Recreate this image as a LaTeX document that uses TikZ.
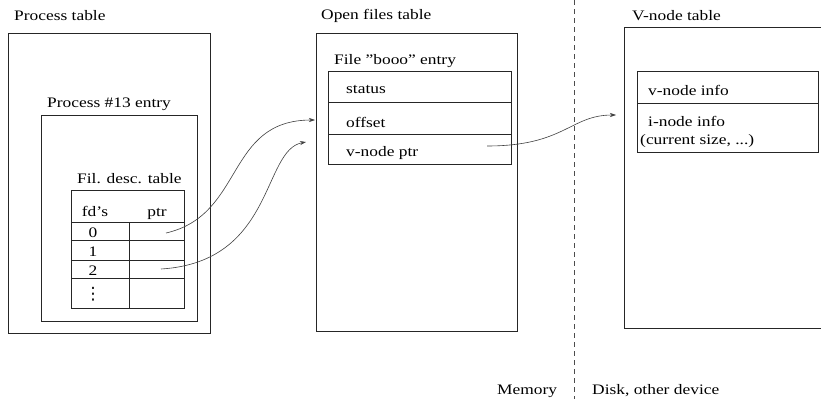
\documentclass[tikz,border=0pt]{standalone}
\usepackage{fontspec}
\setmainfont{Liberation Serif}[FakeStretch=1.2]
\newfontfamily\symfont{DejaVu Sans}
\usetikzlibrary{arrows.meta}
\tikzset{
  lbl/.style={anchor=west,inner sep=0pt,font=\fontsize{14.5}{16}\selectfont},
  box/.style={draw=black!85,line width=0.8pt},
  link/.style={draw=black!75,line width=0.6pt,-{Stealth[length=6pt,width=4pt]}},
  divider/.style={draw=black!70,line width=0.8pt,dash pattern=on 5pt off 4pt}
}
\begin{document}
\begin{tikzpicture}[x=1pt,y=-1pt]
\useasboundingbox (0,0) rectangle (821,399);
\fill[white] (0,0) rectangle (821,399);
% Process table
\node[lbl] (ptl) at (14,16) {Process table};
\draw[box] (8,33) rectangle (210,333);
\node[lbl] (p13l) at (47,104) {Process \#13 entry};
\draw[box] (41,115) rectangle (197,321);
\node[lbl] (fdtl) at (77,179) {Fil. desc. table};
\draw[box] (71,190) rectangle (184,308);
\draw[box] (71,222) -- (184,222) (71,240) -- (184,240) (71,260) -- (184,260) (71,278) -- (184,278);
\draw[box] (129,222) -- (129,308);
\node[lbl,anchor=base] (fdh) at (95,216) {fd's};
\node[lbl,anchor=base] (ptrh) at (157,216) {ptr};
\node[lbl,anchor=base] (r0) at (93,237) {0};
\node[lbl,anchor=base] (r1) at (93,256) {1};
\node[lbl,anchor=base] (r2) at (93,275) {2};
\node[lbl,anchor=center,font=\symfont\fontsize{17}{19}\selectfont] (r3) at (93,294) {⋮};
\coordinate (p0) at (166,233);
\coordinate (p2) at (161,269);
% Open files table
\node[lbl] (oftl) at (321,16) {Open files table};
\draw[box] (316,33) rectangle (517,331);
\node[lbl] (fel) at (334,61) {File \symbol{34}booo\symbol{34} entry};
\draw[box] (328,71) rectangle (511,164);
\draw[box] (328,102) -- (511,102) (328,134) -- (511,134);
\node[lbl] (st) at (346,89) {status};
\node[lbl] (of) at (346,122) {offset};
\node[lbl] (vp) at (346,153) {v-node ptr};
\coordinate (vps) at (487,146);
\coordinate (ofin1) at (315,120);
\coordinate (ofin2) at (306,142);
% divider
\coordinate (dtop) at (574,0);
\coordinate (dbot) at (574,399);
\draw[divider] (dtop) -- (dbot);
% V-node table
\node[lbl] (vtl) at (632,16) {V-node table};
\draw[box] (624,27) -- (830,27) (624,27) -- (624,328) -- (830,328);
\draw[box] (637,71) rectangle (818,152);
\draw[box] (637,103) -- (818,103);
\node[lbl] (vi) at (648,90) {v-node info};
\node[lbl] (ii) at (648,121) {i-node info};
\node[lbl] (cs) at (640,141) {(current size, ...)};
\coordinate (vin) at (616,115);
% bottom labels
\node[lbl] (mem) at (497,391) {Memory};
\node[lbl] (disk) at (592,391) {Disk, other device};
% links
\draw[link] (p0) .. controls (245,215) and (225,120) .. (ofin1);
\draw[link] (p2) .. controls (275,262) and (262,150) .. (ofin2);
\draw[link] (vps) .. controls (565,146) and (570,115) .. (vin);
\end{tikzpicture}
\end{document}
